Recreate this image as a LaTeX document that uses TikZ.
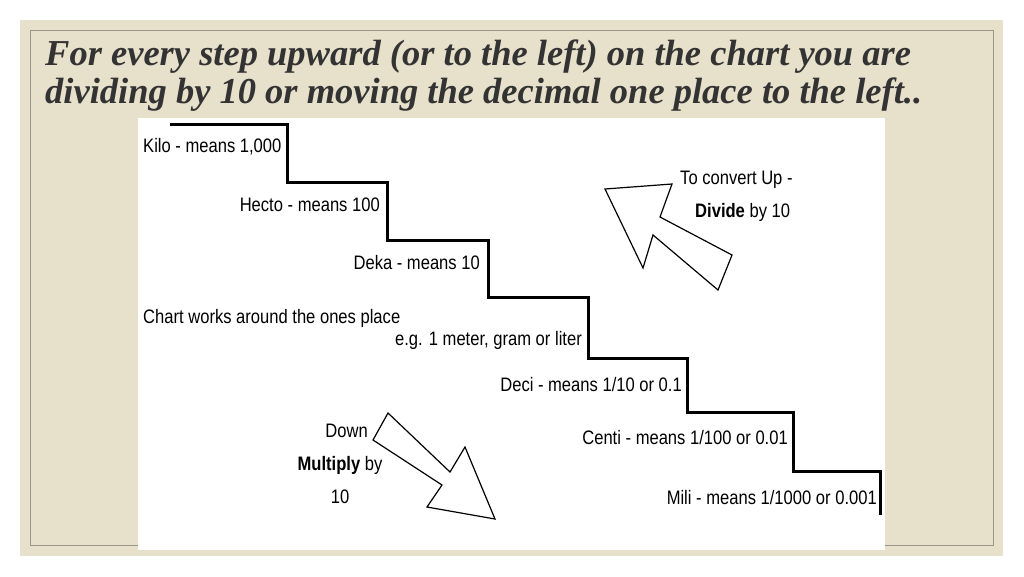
\documentclass[tikz,border=0pt]{standalone}
\usepackage{fontspec}
\setmainfont{Liberation Serif}
\newfontfamily\chartfont{Liberation Sans}[FakeStretch=0.85]
\definecolor{slidebg}{HTML}{E7E0CA}
\definecolor{framegray}{HTML}{9A968A}
\definecolor{titleink}{HTML}{333333}
\tikzset{
  lbl/.style={font=\chartfont\fontsize{19.5}{21}\selectfont, inner sep=0pt},
  stair/.style={line width=3pt, line join=miter},
  bigarrow/.style={draw, line width=1.2pt, fill=white, line join=miter}
}
\begin{document}
\begin{tikzpicture}[x=1pt,y=-1pt]
\useasboundingbox (0,0) rectangle (1024,576);
\fill[white] (0,0) rectangle (1024,576);
\fill[slidebg] (20,20) rectangle (1003,556);
\draw[framegray, line width=0.8pt] (30,30) rectangle (993,545);

% title
\node[anchor=west, inner sep=0pt, text=titleink, align=left,
      font=\fontsize{36.5}{38}\selectfont\bfseries\itshape] (title) at (45,76)
  {For every step upward (or to the left) on the chart you are\\
   dividing by 10 or moving the decimal one place to the left..};

% chart
\fill[white] (138,118) rectangle (885,550);
\draw[stair] (170,124) -| (287,182) -| (387,240) -| (488,297) -| (588,358)
  -| (687,412) -| (793,471) -| (880,515);

\node[lbl, anchor=west] (kilo) at (143,147) {Kilo - means 1,000};
\node[lbl, anchor=east] (hecto) at (380,205) {Hecto - means 100};
\node[lbl, anchor=east] (deka) at (480,263) {Deka - means 10};
\node[lbl, anchor=west] (ones) at (143,318) {Chart works around the ones place};
\node[lbl, anchor=east] (eg) at (582,340) {e.g. 1 meter, gram or liter};
\node[lbl, anchor=east] (deci) at (682,385) {Deci - means 1/10 or 0.1};
\node[lbl, anchor=east] (centi) at (788,438) {Centi - means 1/100 or 0.01};
\node[lbl, anchor=east] (mili) at (877,498) {Mili - means 1/1000 or 0.001};

% up arrow
\draw[bigarrow] (605,189) -- (672,184) -- (660,217) -- (732,255) -- (718,290)
  -- (653,235) -- (643,268) -- cycle;
\node[lbl, anchor=west] (up) at (680,180) {To convert Up -};
\node[lbl, anchor=west] (divide) at (695,212) {\textbf{Divide} by 10};

% down arrow
\draw[bigarrow] (388,413) -- (450,472) -- (465,447) -- (495,519) -- (427,507)
  -- (442,485) -- (373,440) -- cycle;
\node[lbl, anchor=east] (down) at (368,431) {Down};
\node[lbl] (multiply) at (340,465) {\textbf{Multiply} by};
\node[lbl] (ten) at (340,497) {10};
\end{tikzpicture}
\end{document}
